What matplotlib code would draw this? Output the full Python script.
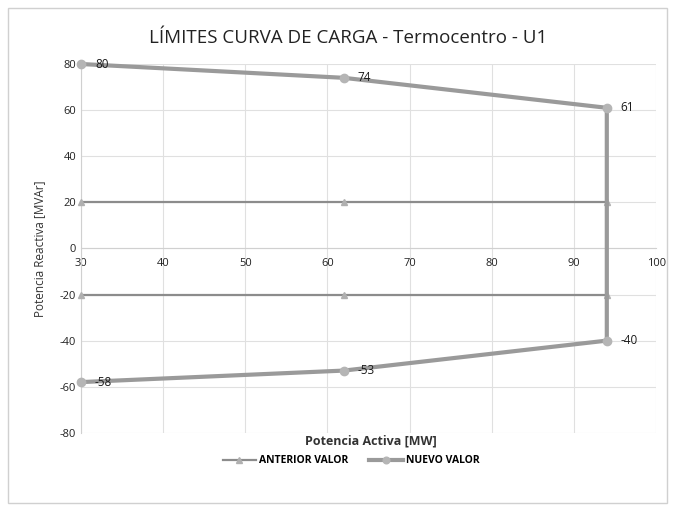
import matplotlib.pyplot as plt
from matplotlib.patches import Rectangle

# Datos
p_anterior = [30, 62, 94, 94, 62, 30]
q_anterior = [20, 20, 20, -20, -20, -20]
p_nuevo = [30, 62, 94, 94, 62, 30]
q_nuevo = [80, 74, 61, -40, -53, -58]
x_ticks = [30, 40, 50, 60, 70, 80, 90, 100]
y_ticks = [-80, -60, -40, -20, 0, 20, 40, 60, 80]

plt.rcParams['font.family'] = ['Open Sans', 'DejaVu Sans']
plt.rcParams['axes.unicode_minus'] = False

fig = plt.figure(figsize=(6.75, 5.08), dpi=100)
ax = fig.add_axes([0.12, 0.148, 0.852, 0.726])

# borde del grafico
fig.patches.append(Rectangle((0.012, 0.01), 0.976, 0.975, transform=fig.transFigure,
                             fill=False, edgecolor='#d0d0d0', lw=1))

ax.plot(p_anterior, q_anterior, color='#8c8c8c', lw=1.6, marker='^', ms=5,
        markerfacecolor='#b0b0b0', markeredgecolor='#b0b0b0', label='ANTERIOR VALOR',
        zorder=3, clip_on=False)
ax.plot(p_nuevo, q_nuevo, color='#9a9a9a', lw=3, marker='o', ms=6,
        markerfacecolor='#b5b5b5', markeredgecolor='#b5b5b5', label='NUEVO VALOR',
        zorder=4, clip_on=False)

for p, q in zip(p_nuevo, q_nuevo):
    ax.annotate(str(q), (p, q), xytext=(10, 0), textcoords='offset points',
                va='center', ha='left', fontsize=8.5, color='#1a1a1a', zorder=5)

ax.set_xlim(30, 100)
ax.set_ylim(-80, 80)
ax.set_xticks(x_ticks)
ax.set_yticks(y_ticks)
ax.tick_params(labelsize=8, length=0, colors='#222222')
ax.tick_params(axis='x', pad=7)
ax.grid(True, color='#e0e0e0', lw=0.8)
ax.set_axisbelow(True)

ax.spines['bottom'].set_position(('data', 0))
ax.spines['bottom'].set_color('#d0d0d0')
ax.spines['left'].set_color('#d0d0d0')
ax.spines['top'].set_visible(False)
ax.spines['right'].set_visible(False)

fig.text(0.516, 0.925, 'LÍMITES CURVA DE CARGA - Termocentro - U1', ha='center', va='center',
         fontsize=13.5, color='#222222')
ax.set_ylabel('Potencia Reactiva [MVAr]', fontsize=8.5, color='#333333', labelpad=10)
fig.text(0.55, 0.132, 'Potencia Activa [MW]', ha='center', va='center', fontsize=9,
         fontweight='bold', color='#333333')

fig.legend(loc='center', bbox_to_anchor=(0.52, 0.093), ncol=2, frameon=False,
           handlelength=3.2, columnspacing=2, handletextpad=0.3, markerscale=0.8,
           prop={'weight': 'bold', 'size': 7.5})

fig.savefig('out.png', dpi=100)
